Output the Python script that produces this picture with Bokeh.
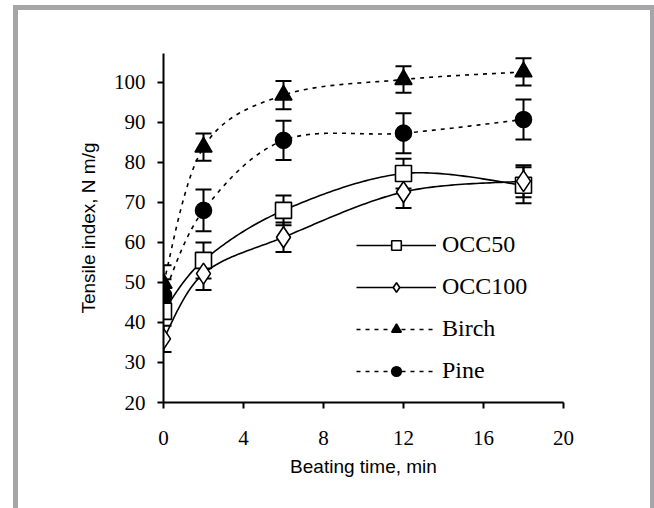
import numpy as np
from bokeh.plotting import figure
from bokeh.models import (ColumnDataSource, Whisker, TeeHead, FixedTicker, Legend,
                          LegendItem, Range1d)
from bokeh.embed import file_html
from bokeh.resources import INLINE

# ---- data ----
beating_time = [0, 2, 6, 12, 18]
occ50 = [42.8, 55.5, 68.0, 77.2, 74.3]
occ50_err = [2.0, 4.5, 3.7, 3.7, 4.5]
occ100 = [35.9, 52.2, 61.3, 72.6, 75.3]
occ100_err = [3.3, 4.1, 3.7, 4.0, 4.0]
birch = [49.8, 83.8, 96.8, 100.7, 102.6]
birch_err = [4.5, 3.4, 3.5, 3.3, 3.4]
pine = [46.8, 68.0, 85.5, 87.3, 90.7]
pine_err = [4.0, 5.2, 4.9, 5.0, 5.0]
x_ticks = [0, 4, 8, 12, 16, 20]
y_ticks = [20, 30, 40, 50, 60, 70, 80, 90, 100]


def smooth(xs, ys, n=40):
    """Excel-like smoothed line (cubic Bezier, Catmull-Rom control points)."""
    P = np.column_stack([xs, ys]).astype(float)
    m = len(P)
    out = []
    for i in range(m - 1):
        p0 = P[i - 1] if i > 0 else P[i]
        p1 = P[i]
        p2 = P[i + 1]
        p3 = P[i + 2] if i + 2 < m else P[i + 1]
        c1 = p1 + (p2 - p0) / 6.0
        c2 = p2 - (p3 - p1) / 6.0
        t = np.linspace(0, 1, n)[:, None]
        seg = ((1 - t) ** 3) * p1 + 3 * ((1 - t) ** 2) * t * c1 + 3 * (1 - t) * t ** 2 * c2 + t ** 3 * p2
        out.append(seg if i == 0 else seg[1:])
    S = np.vstack(out)
    return S[:, 0], S[:, 1]


p = figure(frame_width=400, frame_height=349, output_backend="svg", toolbar_location=None,
           x_range=Range1d(0, 20), y_range=Range1d(20, 107.2),
           min_border_left=163, min_border_right=91, min_border_top=53, min_border_bottom=106)
p.outline_line_color = None
p.xgrid.grid_line_color = None
p.ygrid.grid_line_color = None
p.background_fill_color = "white"
p.border_fill_alpha = 0
p.styles = {
    "background-color": "white",
    "box-shadow": ("inset 13px 0 0 0 #ffffff, inset 0 5px 0 0 #ffffff, "
                   "inset 18px 0 0 0 #a6a6a8, inset 0 10px 0 0 #a6a6a8, "
                   "inset -4px 0 0 0 #a6a6a8"),
}

series = [
    ("OCC50", occ50, occ50_err, "square", 16, "white", "solid"),
    ("OCC100", occ100, occ100_err, "diamond", 21, "white", "solid"),
    ("Birch", birch, birch_err, "triangle", 17, "black", "4 5"),
    ("Pine", pine, pine_err, "circle", 16, "black", "4 5"),
]

items = []
for name, vals, errs, marker, size, fill, dash in series:
    sx, sy = smooth(beating_time, vals)
    lr = p.line(sx, sy, line_color="black", line_width=1.6, line_dash=dash)
    src = ColumnDataSource(dict(x=beating_time, y=vals,
                                upper=[v + e for v, e in zip(vals, errs)],
                                lower=[v - e for v, e in zip(vals, errs)]))
    mr = p.scatter("x", "y", source=src, marker=marker, size=size, fill_color=fill,
                   line_color="black", line_width=1.6)
    w = Whisker(source=src, base="x", upper="upper", lower="lower", line_width=2,
                line_color="black",
                upper_head=TeeHead(size=16, line_width=2, line_color="black"),
                lower_head=TeeHead(size=16, line_width=2, line_color="black"))
    p.add_layout(w)
    items.append(LegendItem(label=name, renderers=[lr, mr]))

legend = Legend(items=items, location=(193, 18), glyph_width=80, glyph_height=24,
                label_height=24, spacing=15, padding=0, margin=0, label_standoff=6,
                label_text_font="Liberation Serif", label_text_font_size="24px",
                label_text_color="black", border_line_alpha=0, background_fill_alpha=0)
p.add_layout(legend)

for ax in (p.xaxis[0], p.yaxis[0]):
    ax.axis_line_width = 2
    ax.axis_line_color = "black"
    ax.major_tick_in = 0
    ax.major_tick_out = 6
    ax.major_tick_line_width = 2
    ax.major_tick_line_color = "black"
    ax.minor_tick_line_color = None
    ax.major_label_text_font = "Liberation Serif"
    ax.major_label_text_font_size = "21px"
    ax.major_label_text_color = "black"
    ax.axis_label_text_font = "Liberation Sans"
    ax.axis_label_text_font_size = "19px"
    ax.axis_label_text_font_style = "normal"
    ax.axis_label_text_color = "black"

p.xaxis[0].ticker = FixedTicker(ticks=x_ticks)
p.yaxis[0].ticker = FixedTicker(ticks=y_ticks)
p.xaxis[0].axis_label = "Beating time, min"
p.yaxis[0].axis_label = "Tensile index, N m/g"
p.xaxis[0].major_label_standoff = 22
p.yaxis[0].major_label_standoff = 12
p.xaxis[0].axis_label_standoff = 8
p.yaxis[0].axis_label_standoff = 12

open("out.html", "w").write(file_html(p, INLINE))
